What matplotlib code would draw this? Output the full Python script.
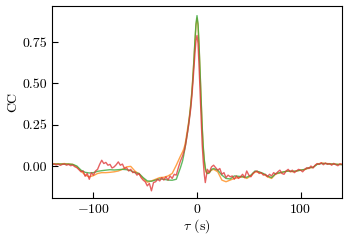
import matplotlib
matplotlib.use("Agg")
import matplotlib.pyplot as plt
import numpy as np

plt.rcParams["font.family"] = "cmr10"
plt.rcParams["mathtext.fontset"] = "cm"
plt.rcParams["axes.formatter.use_mathtext"] = True
plt.rcParams["font.size"] = 10

# lag grid (s): coarse on the wings, fine around the peak
tau = np.concatenate([np.arange(-140, -15, 4), np.arange(-14, 15, 1), np.arange(16, 141, 4)])
# the red series is noisier, read at a finer step
tau_red = np.concatenate([np.arange(-140, -15, 2), np.arange(-14, 15, 1), np.arange(16, 141, 2)])

cc_green = [
    0.010, 0.012, 0.012, 0.011, 0.012, 0.010, 0.000, -0.025, -0.038, -0.042,
    -0.040, -0.032, -0.028, -0.025, -0.022, -0.024, -0.022, -0.020, -0.022, -0.028,
    -0.040, -0.045, -0.070, -0.090, -0.092, -0.085, -0.078, -0.080, -0.085, -0.086,
    -0.080, -0.010,
    0.030, 0.060, 0.095, 0.13, 0.17, 0.21, 0.26, 0.31, 0.37, 0.44, 0.53, 0.64, 0.76, 0.86,
    0.91,
    0.86, 0.73, 0.57, 0.40, 0.24, 0.12, 0.04, -0.01, -0.035, -0.045, -0.045, -0.040, -0.030, -0.020,
    -0.015, -0.025, -0.055, -0.075, -0.078, -0.060, -0.062, -0.065, -0.068, -0.055,
    -0.030, -0.035, -0.045, -0.060, -0.070, -0.045, -0.040, -0.035, -0.030, -0.032,
    -0.030, -0.025, -0.020, -0.010, -0.008, 0.010, 0.015, 0.015, 0.012, 0.012,
    0.010, 0.008,
]
cc_orange = [
    0.012, 0.014, 0.013, 0.015, 0.012, 0.010, -0.005, -0.030, -0.055, -0.065,
    -0.058, -0.045, -0.040, -0.040, -0.038, -0.035, -0.030, -0.020, -0.005, -0.002,
    -0.030, -0.048, -0.075, -0.098, -0.090, -0.080, -0.070, -0.068, -0.060, -0.045,
    0.005, 0.060,
    0.085, 0.10, 0.12, 0.15, 0.19, 0.23, 0.27, 0.32, 0.38, 0.45, 0.54, 0.64, 0.75, 0.85,
    0.895,
    0.85, 0.72, 0.56, 0.39, 0.23, 0.11, 0.03, -0.02, -0.04, -0.045, -0.04, -0.035, -0.03, -0.025,
    -0.020, -0.035, -0.085, -0.095, -0.085, -0.075, -0.070, -0.065, -0.075, -0.060,
    -0.035, -0.038, -0.048, -0.065, -0.075, -0.048, -0.042, -0.035, -0.030, -0.035,
    -0.030, -0.025, -0.022, -0.012, -0.008, 0.012, 0.018, 0.016, 0.014, 0.012,
    0.010, 0.010,
]
cc_red = [
    # -140 .. -16, step 2
    0.008, 0.014, 0.006, 0.012, 0.004, 0.010, 0.013, 0.005, 0.010, 0.002,
    0.006, -0.004, -0.010, -0.022, -0.035, -0.030, -0.062, -0.045, -0.080, -0.040,
    -0.055, -0.030, -0.020, 0.010, 0.035, 0.015, 0.022, 0.005, 0.010, -0.012,
    -0.005, 0.008, 0.025, 0.005, 0.012, -0.015, -0.010, -0.030, -0.020, -0.040,
    -0.035, -0.055, -0.045, -0.070, -0.085, -0.095, -0.120, -0.105, -0.150, -0.100,
    -0.095, -0.080, -0.090, -0.070, -0.085, -0.065, -0.085, -0.060, -0.075, -0.050,
    -0.055, -0.010, 0.030,
    # -14 .. 14, step 1
    0.06, 0.08, 0.10, 0.13, 0.17, 0.21, 0.25, 0.30, 0.35, 0.42, 0.50, 0.59, 0.68, 0.76,
    0.79,
    0.74, 0.60, 0.44, 0.28, 0.13, 0.03, -0.05, -0.10, -0.06, -0.02, -0.03, -0.04, -0.02, -0.005,
    # 16 .. 140, step 2
    0.005, -0.010, -0.025, -0.015, -0.050, -0.040, -0.070, -0.055, -0.065, -0.060,
    -0.080, -0.060, -0.075, -0.065, -0.050, -0.070, -0.030, -0.055, -0.065, -0.045,
    -0.035, -0.030, -0.045, -0.040, -0.055, -0.050, -0.065, -0.050, -0.060, -0.040,
    -0.050, -0.035, -0.025, -0.045, -0.050, -0.030, -0.020, -0.035, -0.025, -0.040,
    -0.030, -0.020, -0.025, -0.035, -0.020, -0.010, -0.015, 0.000, -0.012, 0.005,
    0.015, 0.010, 0.020, 0.008, 0.018, 0.010, 0.015, 0.005, 0.016, 0.008,
    0.002, 0.014, 0.010,
]

fig = plt.figure(figsize=(3.49, 2.41), dpi=100)
ax = fig.add_axes([0.149, 0.178, 0.831, 0.797])

ax.plot(tau, cc_orange, color="#ff8c1a", lw=1.0, alpha=0.8)
ax.plot(tau, cc_green, color="#3aa83a", lw=1.0, alpha=0.8)
ax.plot(tau_red, cc_red, color="#e03a3a", lw=1.0, alpha=0.8)

ax.set_xlim(-140, 140)
ax.set_ylim(-0.194, 0.968)
ax.set_xticks([-100, 0, 100])
ax.set_yticks([0.0, 0.25, 0.5, 0.75])
ax.yaxis.set_major_formatter(matplotlib.ticker.FormatStrFormatter("%.2f"))
ax.tick_params(direction="in", length=4)
ax.set_xlabel(r"$\tau$ (s)", labelpad=1)
ax.set_ylabel("CC", labelpad=2)

fig.savefig("out.png", dpi=100)
